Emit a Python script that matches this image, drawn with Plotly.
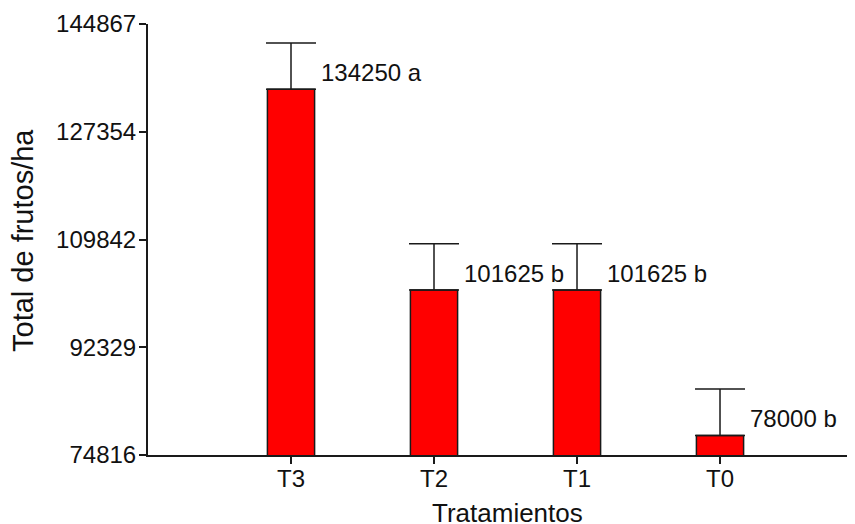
import plotly.graph_objects as go

categories = ["T3", "T2", "T1", "T0"]
values = [134250, 101625, 101625, 78000]
errors = [7530, 7530, 7530, 7530]
letters = ["a", "b", "b", "b"]
y_ticks = [74816, 92329, 109842, 127354, 144867]

xpos = list(range(len(categories)))
FONT = "Liberation Sans, Arial, sans-serif"
TXT = "#111111"

fig = go.Figure()
fig.add_trace(go.Bar(
    x=xpos, y=values, width=0.33,
    marker=dict(color="#ff0000", line=dict(color="#1a1a1a", width=1.5)),
    error_y=dict(type="data", symmetric=False, array=errors,
                 arrayminus=[0] * len(errors), color="#1a1a1a",
                 thickness=1.5, width=25),
))

for x, v, l in zip(xpos, values, letters):
    fig.add_annotation(x=x, y=v, text=f"{v} {l}", showarrow=False,
                       xanchor="left", yanchor="middle", xshift=28, yshift=17,
                       font=dict(family=FONT, size=24, color=TXT))

fig.add_annotation(xref="paper", yref="paper", x=0, xshift=359, y=0, yshift=-58,
                   text="Tratamientos", showarrow=False, xanchor="center",
                   yanchor="middle", font=dict(family=FONT, size=26, color=TXT))
fig.add_annotation(xref="paper", yref="paper", x=0, xshift=-125, y=0, yshift=214,
                   text="Total de frutos/ha", showarrow=False, textangle=-90,
                   xanchor="center", yanchor="middle",
                   font=dict(family=FONT, size=29, color=TXT))

fig.update_layout(
    width=847, height=516,
    margin=dict(l=140, r=2, t=16, b=69),
    plot_bgcolor="white", paper_bgcolor="white",
    showlegend=False,
    font=dict(family=FONT, size=24, color=TXT),
)
fig.update_xaxes(
    range=[-1.0, 3.93], tickvals=xpos, ticktext=categories,
    showgrid=False, zeroline=False, showline=True, linecolor="#1a1a1a",
    linewidth=2, ticks="outside", ticklen=7, tickwidth=1.5, tickcolor="#1a1a1a",
    ticklabelstandoff=-6,
    tickfont=dict(family=FONT, size=24, color=TXT),
)
fig.update_yaxes(
    range=[y_ticks[0], y_ticks[-1]], tickvals=y_ticks,
    ticktext=[str(t) for t in y_ticks],
    showgrid=False, zeroline=False, showline=True, linecolor="#1a1a1a",
    linewidth=2, ticks="outside", ticklen=7, tickwidth=1.5, tickcolor="#1a1a1a",
    ticklabelstandoff=-2,
    tickfont=dict(family=FONT, size=24, color=TXT),
)

fig.write_html("out.html")
